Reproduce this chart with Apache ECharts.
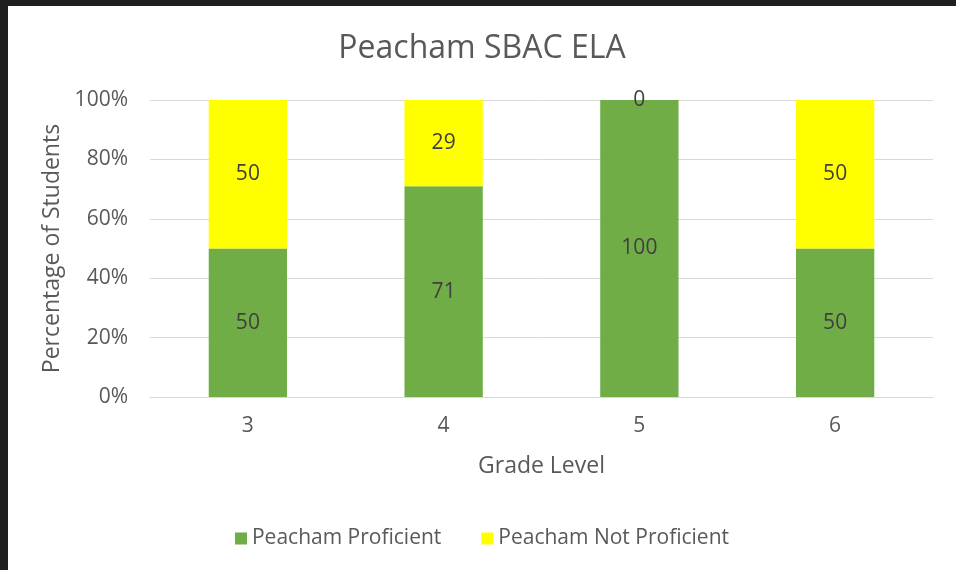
<!DOCTYPE html>
<html lang="en">
<head>
  <meta charset="UTF-8">
  <title>Peacham SBAC ELA</title>
  <script src="https://cdn.jsdelivr.net/npm/echarts@6.0.0/dist/echarts.min.js"></script>
  <style>
    html, body { margin: 0; padding: 0; background: #1f1f1f; }
    #main {
      position: absolute;
      left: 8px;
      top: 6px;
      right: 0;
      bottom: 0;
      background: #fff;
    }
  </style>
</head>
<body>
  <div id="main"></div>
  <script>
    var grades = ['3', '4', '5', '6']
    var proficient = [50, 71, 100, 50]
    var notProficient = [50, 29, 0, 50]
    var yTicks = ['0%', '20%', '40%', '60%', '80%', '100%']

    var font = 'Open Sans'
    var txt = '#595959'

    var myChart = echarts.init(document.getElementById('main'))
    var option = {
      textStyle: { fontFamily: font },
      title: {
        text: 'Peacham SBAC ELA',
        left: 'center',
        top: 22,
        textStyle: { fontFamily: font, fontSize: 32, fontWeight: 'normal', color: txt }
      },
      legend: {
        bottom: 16,
        left: 'center',
        itemWidth: 12,
        itemHeight: 12,
        itemGap: 40,
        icon: 'rect',
        textStyle: { fontFamily: font, fontSize: 21, color: txt }
      },
      grid: { left: 142, right: 23, top: 94, bottom: 173 },
      xAxis: {
        type: 'category',
        data: grades,
        name: 'Grade Level',
        nameLocation: 'middle',
        nameGap: 58,
        nameTextStyle: { fontFamily: font, fontSize: 23, color: txt },
        axisTick: { show: false },
        axisLine: { lineStyle: { color: '#d9d9d9' } },
        axisLabel: { fontFamily: font, fontSize: 21, color: txt, margin: 19 }
      },
      yAxis: {
        type: 'value',
        min: 0,
        max: 100,
        interval: 20,
        name: 'Percentage of Students',
        nameLocation: 'middle',
        nameGap: 85,
        nameTextStyle: { fontFamily: font, fontSize: 23, color: txt },
        axisLine: { show: false },
        axisTick: { show: false },
        axisLabel: {
          fontFamily: font, fontSize: 21, color: txt, margin: 22,
          formatter: function (v) { return yTicks[v / 20] }
        },
        splitLine: { lineStyle: { color: '#d9d9d9' } }
      },
      series: [
        {
          name: 'Peacham Proficient',
          type: 'bar',
          stack: 'all',
          barWidth: '40%',
          data: proficient,
          itemStyle: { color: '#70ad47' },
          label: { show: true, position: 'inside', fontFamily: font, fontSize: 21, color: '#404040' }
        },
        {
          name: 'Peacham Not Proficient',
          type: 'bar',
          stack: 'all',
          barWidth: '40%',
          data: notProficient,
          itemStyle: { color: '#ffff00' },
          label: { show: true, position: 'inside', fontFamily: font, fontSize: 21, color: '#404040' }
        }
      ]
    }
    myChart.setOption(option)
  </script>
</body>
</html>
